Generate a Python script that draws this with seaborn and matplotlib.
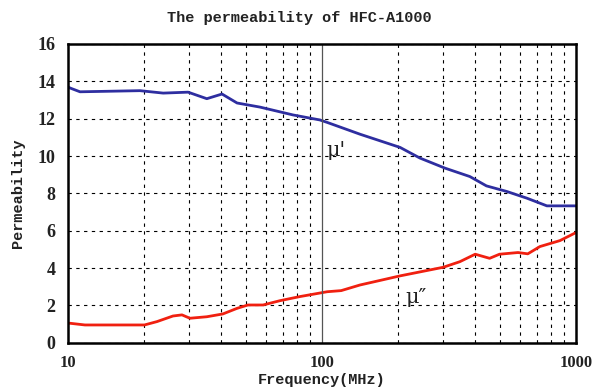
import matplotlib
matplotlib.use("Agg")
import matplotlib.pyplot as plt
import seaborn as sns
import pandas as pd
from matplotlib.ticker import FixedLocator, NullFormatter

# Data
mu1_freq = [10, 10.2, 11.15, 19.2, 23.7, 29.7, 35.2, 40.4, 46.3, 57, 76.9, 98.2, 104.8,
            141, 203, 243, 305, 382, 444, 534, 641, 768, 1000]
mu1_val = [13.7, 13.64, 13.44, 13.5, 13.37, 13.42, 13.07, 13.32, 12.84, 12.62, 12.2, 11.93, 11.8,
           11.17, 10.46, 9.89, 9.35, 8.9, 8.4, 8.1, 7.74, 7.33, 7.33]
mu2_freq = [10, 10.2, 11.66, 20, 22.4, 25.9, 28.1, 30.2, 35.2, 40.7, 46.3, 51.1, 58.6, 68.3,
            81.8, 104.8, 119, 141, 203, 300, 349, 401, 457, 500, 591, 646, 721, 865, 1000]
mu2_val = [1.04, 1.04, 0.95, 0.95, 1.13, 1.43, 1.49, 1.31, 1.39, 1.54, 1.84, 2.02, 2.02, 2.25,
           2.47, 2.73, 2.79, 3.09, 3.58, 4.04, 4.34, 4.74, 4.52, 4.74, 4.83, 4.76, 5.15, 5.47, 5.9]
x_ticks = [10, 100, 1000]
x_tick_labels = ["10", "100", "1000"]
y_ticks = [0, 2, 4, 6, 8, 10, 12, 14, 16]

sns.set_style("white")
fig = plt.figure(figsize=(5.98, 3.9), dpi=100)
ax = fig.add_axes([68/598, 1-342.7/390, (576-68)/598, (342.7-44)/390])

df1 = pd.DataFrame({"f": mu1_freq, "v": mu1_val})
df2 = pd.DataFrame({"f": mu2_freq, "v": mu2_val})
sns.lineplot(data=df1, x="f", y="v", ax=ax, color="#2e2ea0", lw=2.0)
sns.lineplot(data=df2, x="f", y="v", ax=ax, color="#f02010", lw=2.0)

ax.set_xscale("log")
ax.set_xlim(10, 1000)
ax.set_ylim(0, 16)

minor = [m * d for d in (10, 100) for m in range(2, 10)]
ax.xaxis.set_major_locator(FixedLocator(x_ticks))
ax.xaxis.set_minor_locator(FixedLocator(minor))
ax.xaxis.set_minor_formatter(NullFormatter())
ax.set_xticks(x_ticks)
ax.set_xticklabels(x_tick_labels)
ax.set_yticks(y_ticks)
ax.set_yticklabels([str(v) for v in y_ticks])

ax.grid(which="minor", axis="x", color="black", ls=(0, (3, 4)), lw=0.8)
ax.grid(which="major", axis="y", color="black", ls=(0, (3, 4)), lw=0.8)
ax.axvline(100, color="#555555", lw=0.9)

for s in ax.spines.values():
    s.set_color("black")
    s.set_linewidth(1.8)

for lab in ax.get_yticklabels():
    lab.set_fontfamily("Liberation Serif")
    lab.set_fontsize(13)
    lab.set_fontweight("bold")
    lab.set_color("#222222")
for lab in ax.get_xticklabels():
    lab.set_fontfamily("Liberation Serif")
    lab.set_fontsize(12)
    lab.set_fontweight("bold")
    lab.set_color("#222222")
ax.tick_params(axis="both", which="both", length=0)
ax.tick_params(axis="y", pad=9)
ax.tick_params(axis="x", pad=9)

mono = dict(family="Liberation Mono", weight="bold", color="#222222")
ax.set_xlabel("Frequency(MHz)", fontsize=11, labelpad=1, **mono)
ax.set_ylabel("Permeability", fontsize=11, labelpad=9, **mono)
fig.text(0.5, 1-18/390, "The permeability of HFC-A1000", ha="center", va="center",
         fontsize=11, **mono)

ax.text(104, 10.0, "μ'", fontsize=15, family="DejaVu Serif", color="#222222")
ax.text(213, 2.1, "μ\u2033", fontsize=15, family="DejaVu Serif", color="#222222")

fig.savefig("out.png", dpi=100)
